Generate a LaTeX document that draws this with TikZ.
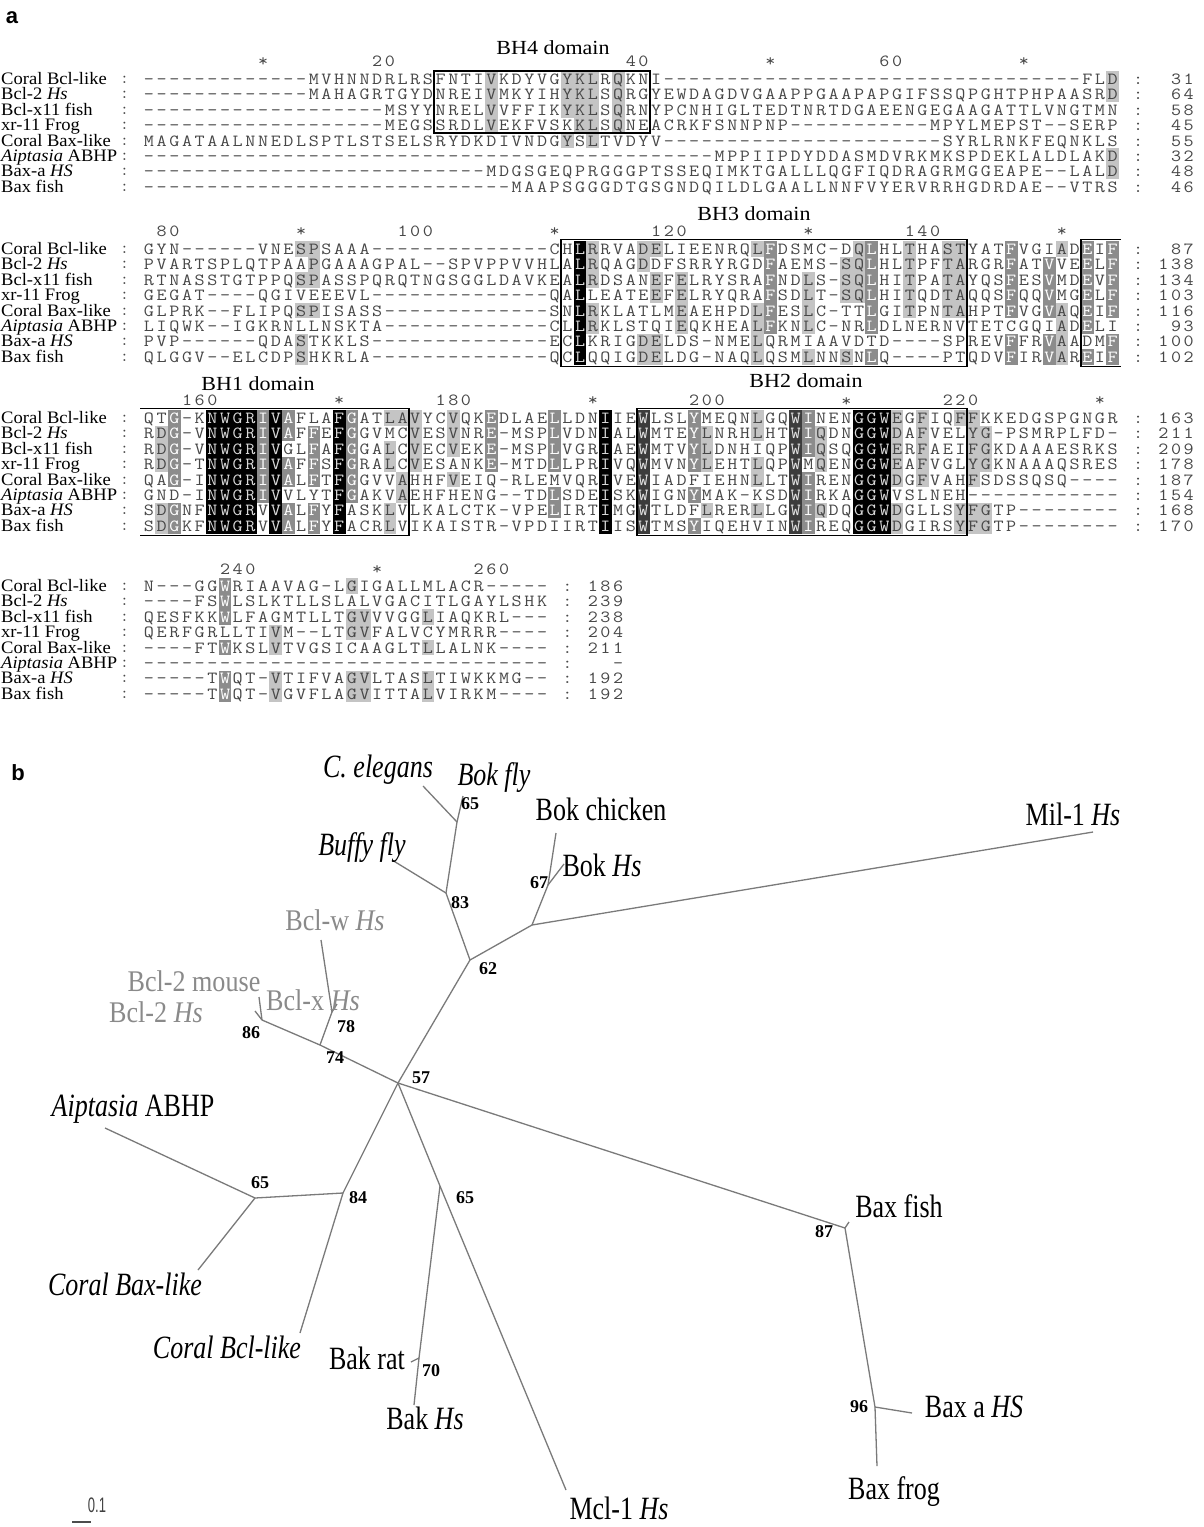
\documentclass[tikz,border=0pt]{standalone}
\usepackage{fontspec}
\setmainfont{Liberation Serif}
\newfontfamily\sansf{Liberation Sans}
\usepackage{graphicx}
\definecolor{lgray}{HTML}{C4C4C4}
\definecolor{mgray}{HTML}{8C8C8C}
\definecolor{kgray}{HTML}{3C3C3C}
\definecolor{brc}{HTML}{7A7A7A}
\definecolor{glab}{HTML}{8A8A8A}
\newcommand\cellat[4]{\path (#1,#2) node[cell,cell#4] {\scalebox{1.15}[1]{#3}};}
\newcommand\cnd[1]{\scalebox{0.8}[1]{#1}}
\newcommand\gcnd[1]{\scalebox{0.87}[1]{#1}}
\newcommand\wid[1]{\scalebox{1.06}[1]{#1}}
\ExplSyntaxOn
\prop_new:N \g_sh_prop
\cs_new:Npn \D #1 { \prg_replicate:nn {#1} {-} }
\tl_new:N \l_seq_tl
\tl_new:N \l_ch_tl
\tl_new:N \l_ty_tl
\int_new:N \l_n_int
\NewDocumentCommand{\shcol}{m m m m}{
  \clist_map_inline:nn {#3} { \prop_gput:Nnn \g_sh_prop {#1-##1-#2} {#4} }
}
\NewDocumentCommand{\arow}{m m m m}{
  \tl_set:Nx \l_seq_tl {#4}
  \int_step_inline:nn { \tl_count:N \l_seq_tl } {
    \tl_set:Nx \l_ch_tl { \tl_item:Nn \l_seq_tl {##1} }
    \prop_get:NnNF \g_sh_prop {#1-#2-##1} \l_ty_tl { \tl_set:Nn \l_ty_tl {n} }
    \use:x { \exp_not:N \cellat { \fp_eval:n {149 + (##1 - 1) * 12.68} } { \fp_eval:n {#3 + (#2 - 1) * 15.4} } { \l_ch_tl } { \l_ty_tl } }
  }
}
\NewDocumentCommand{\rnum}{O{n} m m m}{
  \tl_set:Nx \l_seq_tl {#4}
  \int_set:Nn \l_n_int { \tl_count:N \l_seq_tl }
  \int_step_inline:nn { \l_n_int } {
    \tl_set:Nx \l_ch_tl { \tl_item:Nn \l_seq_tl {##1} }
    \use:x { \exp_not:N \cellat { \fp_eval:n {149 + (#3 - \l_n_int + ##1 - 1) * 12.68} } { #2 } { \l_ch_tl } { #1 } }
  }
}
\NewDocumentCommand{\endnums}{m m m}{
  \int_zero:N \l_tmpb_int
  \clist_map_inline:nn {#3} {
    \rnum{ \fp_eval:n {#1 + \l_tmpb_int * 15.4} }{#2}{:}
    \rnum{ \fp_eval:n {#1 + \l_tmpb_int * 15.4} }{#2+4}{##1}
    \int_incr:N \l_tmpb_int
  }
}
\ExplSyntaxOff
\newcommand\rowlabels[1]{%
  \node[rl] (l1) at (1,{#1+5.5}) {\wid{Coral Bcl-like}};
  \node[rl] (l2) at (1,{#1+15.4+5.5}) {\wid{Bcl-2 \textit{Hs}}};
  \node[rl] (l3) at (1,{#1+30.8+5.5}) {\wid{Bcl-x11 fish}};
  \node[rl] (l4) at (1,{#1+46.2+5.5}) {\wid{xr-11 Frog}};
  \node[rl] (l5) at (1,{#1+61.6+5.5}) {\wid{Coral Bax-like}};
  \node[rl] (l6) at (1,{#1+77+5.5}) {\wid{\textit{Aiptasia} ABHP}};
  \node[rl] (l7) at (1,{#1+92.4+5.5}) {\wid{Bax-a \textit{HS}}};
  \node[rl] (l8) at (1,{#1+107.8+5.5}) {\wid{Bax fish}};
  \foreach \k in {0,...,7} {\node[lcol] at (124.5,{#1+\k*15.4}) {:};}
}
% shading
\shcol{1}{28}{1,2,3,4}{l}\shcol{1}{34}{1,2,3,5}{l}\shcol{1}{35}{1,2,3,4}{l}
\shcol{1}{36}{1,2,3,4,5}{l}\shcol{1}{38}{1,2,3,4}{l}\shcol{1}{77}{1,2,6,7}{l}
\shcol{2}{13}{1,3,5,7,8}{l}\shcol{2}{14}{1,2,3,5}{l}\shcol{2}{35}{1,2,3,4,5,6,7,8}{d}
\shcol{2}{36}{1,2,3,5,6}{l}\shcol{2}{40}{1,2,7,8}{l}\shcol{2}{41}{1,3,4,7,8}{l}
\shcol{2}{43}{3,4,5,6}{l}\shcol{2}{49}{1,5,6,7,8}{l}\shcol{2}{50}{1,2,3,4,5,6}{m}
\shcol{2}{53}{3,4,5,6,8}{l}\shcol{2}{56}{2,3,4,8}{l}\shcol{2}{57}{1,2,3,4}{l}
\shcol{2}{58}{1,2,3,4,5,6,8}{m}\shcol{2}{61}{1,2,3,4,5}{l}\shcol{2}{64}{1,2,3,4,5}{l}
\shcol{2}{65}{1,2,3,4,5}{l}\shcol{2}{69}{1,2,3,4,5,7,8}{m}\shcol{2}{72}{2,3,4,5,7,8}{m}
\shcol{2}{73}{1,5,6,7,8}{l}\shcol{2}{75}{1,2,3,4,5,6,8}{m}\shcol{2}{77}{1,2,3,4,5,7,8}{m}
\shcol{3}{2}{2,3,4,7,8}{l}\shcol{3}{3}{1,2,3,4,5,7,8}{m}
\shcol{3}{6}{1,2,3,4,5,6,7,8}{d}\shcol{3}{7}{1,2,3,4,5,6,7,8}{d}
\shcol{3}{8}{1,2,3,4,5,6,7,8}{d}\shcol{3}{9}{1,2,3,4,5,6,7,8}{d}
\shcol{3}{10}{1,2,3,4,5,6}{m}\shcol{3}{11}{1,2,3,4,5,6,7,8}{d}
\shcol{3}{12}{1,2,4,5,7,8}{m}\shcol{3}{14}{2,3,4,5,7,8}{m}
\shcol{3}{16}{1,2,3,4,5,6,7,8}{d}\shcol{3}{17}{1,2,3,4,5,6}{m}
\shcol{3}{20}{1,3,4,7,8}{l}\shcol{3}{21}{1,5,6}{l}\shcol{3}{22}{1,2,3,4}{l}
\shcol{3}{25}{1,2,3,5}{l}\shcol{3}{28}{1,2,3,4}{m}\shcol{3}{33}{1,2,3,4,6,7}{m}
\shcol{3}{37}{1,2,3,4,5,6,7,8}{d}\shcol{3}{40}{1,2,3,4,5,6,7,8}{k}
\shcol{3}{44}{1,2,3,4,6,8}{m}\shcol{3}{45}{2,3,4,7}{l}\shcol{3}{49}{1,2,4,5,7}{l}
\shcol{3}{52}{1,2,3,4,5,6,7,8}{k}\shcol{3}{53}{1,2,3,5,6,7,8}{m}\shcol{3}{54}{2,3,4,7}{l}
\shcol{3}{57}{1,2,3,4,5,6,7,8}{d}\shcol{3}{58}{1,2,3,4,5,6,7,8}{d}\shcol{3}{59}{1,2,3,4,5,6,7,8}{d}
\shcol{3}{60}{1,2,3,4,5,7,8}{l}\shcol{3}{62}{1,2,3,4,5}{l}\shcol{3}{65}{1,7,8}{l}
\shcol{3}{66}{1,2,3,4,5,7,8}{l}\shcol{3}{67}{2,3,4,7,8}{l}
\shcol{4}{7}{1,2,3,5,7,8}{m}\shcol{4}{11}{4,5,7,8}{l}\shcol{4}{17}{1,3,4,7,8}{l}
\shcol{4}{18}{3,4,7,8}{l}\shcol{4}{23}{3,5,7,8}{l}
\begin{document}
\begin{tikzpicture}[x=1pt,y=-1pt,
  cell/.style={minimum width=12.68pt,minimum height=15.4pt,inner sep=0pt,text height=11pt,text depth=0pt,
    font=\ttfamily\fontsize{17}{17}\selectfont,text=black!72},
  celln/.style={},
  cellr/.style={minimum height=0pt,minimum width=0pt,text height=8pt},
  celll/.style={fill=lgray},
  cellm/.style={fill=mgray,text=white},
  cellk/.style={fill=kgray,text=white!90!black},
  celld/.style={fill=black,text=white!85!black},
  lcol/.style={inner sep=0pt,text height=9pt,text depth=0pt,font=\ttfamily\fontsize{17}{17}\selectfont,text=black!72},
  rl/.style={anchor=base west,inner sep=0pt,text height=11pt,text depth=2.5pt,font=\fontsize{17.5}{17.5}\selectfont},
  dom/.style={inner sep=0pt,text height=13pt,text depth=0pt,font=\fontsize{20}{20}\selectfont},
  dbox/.style={draw=black,line width=1.8pt},
  br/.style={draw=brc,line width=1.3pt},
  tlab/.style={inner sep=0pt,text height=22pt,text depth=4pt,font=\fontsize{32.5}{32.5}\selectfont},
  glabel/.style={inner sep=0pt,text height=20pt,text depth=4pt,font=\fontsize{30}{30}\selectfont,text=glab},
  bs/.style={inner sep=0pt,text height=12.5pt,text depth=0pt,font=\bfseries\fontsize{18}{18}\selectfont},
  plab/.style={inner sep=0pt,font=\sansf\bfseries\fontsize{22}{22}\selectfont}]
\useasboundingbox (0,0) rectangle (1204,1527);
\fill[white] (0,0) rectangle (1204,1527);
\node[plab] (pa) at (12,18) {a};
\node[plab] (pb) at (18,773) {b};
% ---------- block 1
\node[dom] (bh4) at (553,48) {\scalebox{1.1}[1]{BH4 domain}};
\rowlabels{79}
\rnum[r]{62}{10}{*}\rnum[r]{62}{20}{20}\rnum[r]{62}{40}{40}\rnum[r]{62}{50}{*}\rnum[r]{62}{60}{60}\rnum[r]{62}{70}{*}
\arow{1}{1}{79}{\D{13}MVHNNDRLRSFNTIVKDYVGYKLRQKNI\D{33}FLD}
\arow{1}{2}{79}{\D{13}MAHAGRTGYDNREIVMKYIHYKLSQRGYEWDAGDVGAAPPGAAPAPGIFSSQPGHTPHPAASRD}
\arow{1}{3}{79}{\D{19}MSYYNRELVVFFIKYKLSQRNYPCNHIGLTEDTNRTDGAEENGEGAAGATTLVNGTMN}
\arow{1}{4}{79}{\D{19}MEGSSRDLVEKFVSKKLSQNEACRKFSNNPNP\D{11}MPYLMEPST--SERP}
\arow{1}{5}{79}{MAGATAALNNEDLSPTLSTSELSRYDKDIVNDGYSLTVDYV\D{22}SYRLRNKFEQNKLS}
\arow{1}{6}{79}{\D{45}MPPIIPDYDDASMDVRKMKSPDEKLALDLAKD}
\arow{1}{7}{79}{\D{27}MDGSGEQPRGGGPTSSEQIMKTGALLLQGFIQDRAGRMGGEAPE--LALD}
\arow{1}{8}{79}{\D{29}MAAPSGGGDTGSGNDQILDLGAALLNNFVYERVRRHGDRDAE--VTRS}
\endnums{79}{79}{31,64,58,45,55,32,48,46}
\draw[dbox] (434.3,71.3) rectangle (649.9,133.1);
% ---------- block 2
\node[dom] (bh3) at (754,214) {\scalebox{1.1}[1]{BH3 domain}};
\rowlabels{249}
\rnum[r]{232}{3}{80}\rnum[r]{232}{13}{*}\rnum[r]{232}{23}{100}\rnum[r]{232}{33}{*}\rnum[r]{232}{43}{120}\rnum[r]{232}{53}{*}\rnum[r]{232}{63}{140}\rnum[r]{232}{73}{*}
\arow{2}{1}{249}{GYN\D{6}VNESPSAAA\D{14}CHLRRVADELIEENRQLFDSMC-DQLHLTHASTYATFVGIADEIF}
\arow{2}{2}{249}{PVARTSPLQTPAAPGAAAGPAL--SPVPPVVHLALRQAGDDFSRRYRGDFAEMS-SQLHLTPFTARGRFATVVEELF}
\arow{2}{3}{249}{RTNASSTGTPPQSPASSPQRQTNGSGGLDAVKEALRDSANEFELRYSRAFNDLS-SQLHITPATAYQSFESVMDEVF}
\arow{2}{4}{249}{GEGAT----QGIVEEEVL\D{14}QALLEATEEFELRYQRAFSDLT-SQLHITQDTAQQSFQQVMGELF}
\arow{2}{5}{249}{GLPRK--FLIPQSPISASS\D{13}SNLRKLATLMEAEHPDLFESLC-TTLGITPNTAHPTFVGVAQEIF}
\arow{2}{6}{249}{LIQWK--IGKRNLLNSKTA\D{13}CLLRKLSTQIEQKHEALFKNLC-NRLDLNERNVTETCGQIADELI}
\arow{2}{7}{249}{PVP\D{6}QDASTKKLS\D{14}ECLKRIGDELDS-NMELQRMIAAVDTD----SPREVFFRVAADMF}
\arow{2}{8}{249}{QLGGV--ELCDPSHKRLA\D{14}QCLQQIGDELDG-NAQLQSMLNNSNLQ----PTQDVFIRVAREIF}
\endnums{249}{79}{87,138,134,103,116,93,100,102}
\draw[dbox] (561.1,239.5) rectangle (966.9,366.5);
\draw[dbox] (1121,239.5) -- (1081.2,239.5) -- (1081.2,366.5) -- (1121,366.5);
% ---------- block 3
\node[dom] (bh1) at (258,384) {\scalebox{1.1}[1]{BH1 domain}};
\node[dom] (bh2) at (806,381) {\scalebox{1.1}[1]{BH2 domain}};
\rowlabels{418}
\rnum[r]{401}{6}{160}\rnum[r]{401}{16}{*}\rnum[r]{401}{26}{180}\rnum[r]{401}{36}{*}\rnum[r]{401}{46}{200}\rnum[r]{402}{56}{*}\rnum[r]{401}{66}{220}\rnum[r]{401}{76}{*}
\arow{3}{1}{418}{QTG-KNWGRIVAFLAFGATLAVYCVQKEDLAELLDNIIEWLSLYMEQNLGQWINENGGWEGFIQFFKKEDGSPGNGR}
\arow{3}{2}{418}{RDG-VNWGRIVAFFEFGGVMCVESVNRE-MSPLVDNIALWMTEYLNRHLHTWIQDNGGWDAFVELYG-PSMRPLFD-}
\arow{3}{3}{418}{RDG-VNWGRIVGLFAFGGALCVECVEKE-MSPLVGRIAEWMTVYLDNHIQPWIQSQGGWERFAEIFGKDAAAESRKS}
\arow{3}{4}{418}{RDG-TNWGRIVAFFSFGRALCVESANKE-MTDLLPRIVQWMVNYLEHTLQPWMQENGGWEAFVGLYGKNAAAQSRES}
\arow{3}{5}{418}{QAG-INWGRIVALFTFGGVVAHHFVEIQ-RLEMVQRIVEWIADFIEHNLLTWIRENGGWDGFVAHFSDSSQSQ----}
\arow{3}{6}{418}{GND-INWGRIVVLYTFGAKVAEHFHENG--TDLSDEISKWIGNYMAK-KSDWIRKAGGWVSLNEH\D{12}}
\arow{3}{7}{418}{SDGNFNWGRVVALFYFASKLVLKALCTK-VPELIRTIMGWTLDFLRERLLGWIQDQGGWDGLLSYFGTP\D{8}}
\arow{3}{8}{418}{SDGKFNWGRVVALFYFACRLVIKAISTR-VPDIIRTIISWTMSYIQEHVINWIREQGGWDGIRSYFGTP\D{8}}
\endnums{418}{79}{163,211,209,178,187,154,168,170}
\draw[dbox] (140,408.5) -- (409.3,408.5) -- (409.3,535.5) -- (140,535.5);
\draw[dbox] (637.2,408.5) rectangle (966.9,535.5);
% ---------- block 4
\rowlabels{586}
\rnum[r]{570}{9}{240}\rnum[r]{570}{19}{*}\rnum[r]{570}{29}{260}
\arow{4}{1}{586}{N---GGWRIAAVAG-LGIGALLMLACR-----}
\arow{4}{2}{586}{----FSWLSLKTLLSLALVGACITLGAYLSHK}
\arow{4}{3}{586}{QESFKKWLFAGMTLLTGVVVGGLIAQKRL---}
\arow{4}{4}{586}{QERFGRLLTIVM--LTGVFALVCYMRRR----}
\arow{4}{5}{586}{----FTWKSLVTVGSICAAGLTLLALNK----}
\arow{4}{6}{586}{\D{32}}
\arow{4}{7}{586}{-----TWQT-VTIFVAGVLTASLTIWKKMG--}
\arow{4}{8}{586}{-----TWQT-VGVFLAGVITTALVIRKM----}
\endnums{586}{34}{186,239,238,204,211,-,192,192}
% ---------- tree
\coordinate (c57) at (398,1083);
\coordinate (n62) at (470,960);
\coordinate (n83) at (446,893);
\coordinate (n65a) at (457,822);
\coordinate (eCel) at (423,786);
\coordinate (eBfly) at (463,796);
\coordinate (eBuf) at (392,860);
\coordinate (nJ) at (532,925);
\coordinate (eMil) at (1093,832);
\coordinate (n67) at (548,885);
\coordinate (eBch) at (556,833);
\coordinate (eBhs) at (564,864);
\coordinate (n74) at (320,1045);
\coordinate (n78) at (332,1012);
\coordinate (eBw) at (321,940);
\coordinate (eBx) at (337,1004);
\coordinate (n86) at (262,1020);
\coordinate (eB2m) at (259,997);
\coordinate (eB2h) at (255,1011);
\coordinate (n84) at (343,1193);
\coordinate (eCbcl) at (300,1333);
\coordinate (n65b) at (255,1198);
\coordinate (eAip) at (105,1128);
\coordinate (eCbax) at (198,1270);
\coordinate (n65c) at (440,1186);
\coordinate (eMcl) at (566,1490);
\coordinate (n70) at (419,1358);
\coordinate (eBrat) at (411,1362);
\coordinate (eBakh) at (414,1405);
\coordinate (n87) at (845,1228);
\coordinate (eBxf) at (849,1222);
\coordinate (n96) at (875,1407);
\coordinate (eBxa) at (912,1413);
\coordinate (eBxfr) at (877,1466);
\draw[br] (c57) -- (n62);
\draw[br] (n62) -- (n83);
\draw[br] (n83) -- (n65a);
\draw[br] (n65a) -- (eCel);
\draw[br] (n65a) -- (eBfly);
\draw[br] (n83) -- (eBuf);
\draw[br] (n62) -- (nJ);
\draw[br] (nJ) -- (eMil);
\draw[br] (nJ) -- (n67);
\draw[br] (n67) -- (eBch);
\draw[br] (n67) -- (eBhs);
\draw[br] (c57) -- (n74);
\draw[br] (n74) -- (n78);
\draw[br] (n78) -- (eBw);
\draw[br] (n78) -- (eBx);
\draw[br] (n74) -- (n86);
\draw[br] (n86) -- (eB2m);
\draw[br] (n86) -- (eB2h);
\draw[br] (c57) -- (n84);
\draw[br] (n84) -- (eCbcl);
\draw[br] (n84) -- (n65b);
\draw[br] (n65b) -- (eAip);
\draw[br] (n65b) -- (eCbax);
\draw[br] (c57) -- (n65c);
\draw[br] (n65c) -- (eMcl);
\draw[br] (n65c) -- (n70);
\draw[br] (n70) -- (eBrat);
\draw[br] (n70) -- (eBakh);
\draw[br] (c57) -- (n87);
\draw[br] (n87) -- (eBxf);
\draw[br] (n87) -- (n96);
\draw[br] (n96) -- (eBxa);
\draw[br] (n96) -- (eBxfr);
% leaf labels
\node[tlab] (tCel) at (378,768) {\cnd{\textit{C. elegans}}};
\node[tlab] (tBfly) at (494,776) {\cnd{\textit{Bok fly}}};
\node[tlab] (tBch) at (601,811) {\cnd{Bok chicken}};
\node[tlab] (tMil) at (1073,816) {\cnd{Mil-1 \textit{Hs}}};
\node[tlab] (tBuf) at (362,846) {\cnd{\textit{Buffy fly}}};
\node[tlab] (tBhs) at (602,867) {\cnd{Bok \textit{Hs}}};
\node[glabel] (tBw) at (335,922) {\gcnd{Bcl-w \textit{Hs}}};
\node[glabel] (tB2m) at (194,983) {\gcnd{Bcl-2 mouse}};
\node[glabel] (tB2h) at (156,1014) {\gcnd{Bcl-2 \textit{Hs}}};
\node[glabel] (tBx) at (313,1002) {\gcnd{Bcl-x \textit{Hs}}};
\node[tlab] (tAip) at (133,1107) {\cnd{\textit{Aiptasia} ABHP}};
\node[tlab] (tBxf) at (899,1208) {\cnd{Bax fish}};
\node[tlab] (tCbax) at (125,1286) {\cnd{\textit{Coral Bax-like}}};
\node[tlab] (tCbcl) at (227,1349) {\cnd{\textit{Coral Bcl-like}}};
\node[tlab] (tBrat) at (367,1360) {\cnd{Bak rat}};
\node[tlab] (tBakh) at (425,1420) {\cnd{Bak \textit{Hs}}};
\node[tlab] (tBxa) at (974,1408) {\cnd{Bax a \textit{HS}}};
\node[tlab] (tBxfr) at (894,1490) {\cnd{Bax frog}};
\node[tlab] (tMcl) at (619,1510) {\cnd{Mcl-1 \textit{Hs}}};
% bootstrap values
\node[bs] (b65a) at (470,803) {65};
\node[bs] (b83) at (460,902) {83};
\node[bs] (b67) at (539,882) {67};
\node[bs] (b62) at (488,968) {62};
\node[bs] (b78) at (346,1026) {78};
\node[bs] (b86) at (251,1032) {86};
\node[bs] (b74) at (335,1057) {74};
\node[bs] (b57) at (421,1077) {57};
\node[bs] (b65b) at (260,1182) {65};
\node[bs] (b84) at (358,1197) {84};
\node[bs] (b65c) at (465,1197) {65};
\node[bs] (b87) at (824,1231) {87};
\node[bs] (b70) at (431,1370) {70};
\node[bs] (b96) at (859,1406) {96};
% scale bar
\coordinate (sb1) at (72,1522);
\coordinate (sb2) at (91,1522);
\draw[draw=black!70,line width=2.2pt] (sb1) -- (sb2);
\node[inner sep=0pt,text height=14pt,text depth=0pt,font=\sansf\fontsize{21}{21}\selectfont,text=black!75] (sbl) at (97,1505) {\scalebox{0.62}[1]{0.1}};
\end{tikzpicture}
\end{document}
